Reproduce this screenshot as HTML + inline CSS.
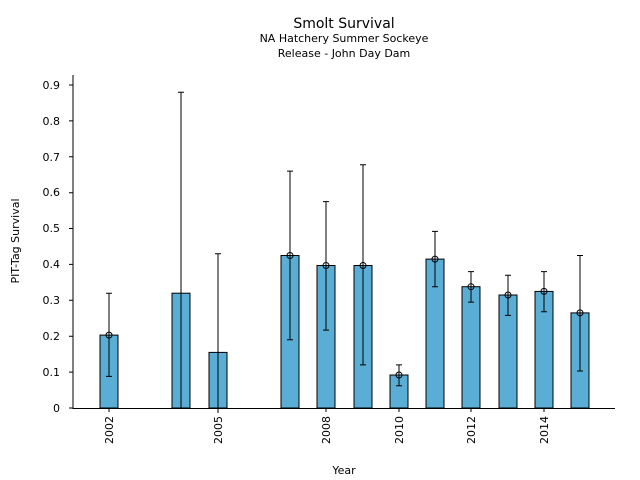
<!DOCTYPE html>
<html><head><meta charset="utf-8"><style>body{margin:0;background:#fff}svg{display:block}text{font-family:"DejaVu Sans","Liberation Sans",sans-serif;fill:#000}</style></head>
<body>
<svg width="640" height="480" viewBox="0 0 640 480">
<text x="344" y="28" font-size="14" text-anchor="middle">Smolt Survival</text>
<text x="344" y="42" font-size="11" text-anchor="middle">NA Hatchery Summer Sockeye</text>
<text x="344" y="57" font-size="11" text-anchor="middle">Release - John Day Dam</text>
<g fill="#5aaed6" stroke="#000" stroke-width="1">
<rect x="100" y="335.1" width="18" height="72.9"/>
<rect x="172" y="293.2" width="18" height="114.8"/>
<rect x="209" y="352.4" width="18" height="55.6"/>
<rect x="281" y="255.5" width="18" height="152.5"/>
<rect x="317" y="265.5" width="18" height="142.5"/>
<rect x="354" y="265.5" width="18" height="142.5"/>
<rect x="390" y="375" width="18" height="33"/>
<rect x="426" y="259.1" width="18" height="148.9"/>
<rect x="462" y="286.7" width="18" height="121.3"/>
<rect x="499" y="295" width="18" height="113"/>
<rect x="535" y="291.4" width="18" height="116.6"/>
<rect x="571" y="312.9" width="18" height="95.1"/>
</g>
<g stroke="#000" stroke-width="1" fill="none">
<path d="M109 293.2V376.4M106 293.2h6M106 376.4h6"/>
<path d="M181 92.2V408M178 92.2h6"/>
<path d="M218 253.7V413M215 253.7h6"/>
<path d="M290 171.1V339.8M287 171.1h6M287 339.8h6"/>
<path d="M326 201.6V330.1M323 201.6h6M323 330.1h6"/>
<path d="M363 164.7V364.9M360 164.7h6M360 364.9h6"/>
<path d="M399 364.9V385.7M396 364.9h6M396 385.7h6"/>
<path d="M435 231.4V286.7M432 231.4h6M432 286.7h6"/>
<path d="M471 271.6V302.1M468 271.6h6M468 302.1h6"/>
<path d="M508 275.2V315.4M505 275.2h6M505 315.4h6"/>
<path d="M544 271.6V311.8M541 271.6h6M541 311.8h6"/>
<path d="M580 255.5V371M577 255.5h6M577 371h6"/>
<circle cx="109" cy="335.1" r="3"/><circle cx="290" cy="255.5" r="3"/><circle cx="326" cy="265.5" r="3"/><circle cx="363" cy="265.5" r="3"/><circle cx="399" cy="375" r="3"/><circle cx="435" cy="259.1" r="3"/><circle cx="471" cy="286.7" r="3"/><circle cx="508" cy="295" r="3"/><circle cx="544" cy="291.4" r="3"/><circle cx="580" cy="312.9" r="3"/>
</g>
<g stroke="#000" stroke-width="1" fill="none">
<path d="M73 75V408.5H615"/>
<path d="M69 408H73M69 372.1H73M69 336.2H73M69 300.3H73M69 264.4H73M69 228.5H73M69 192.7H73M69 156.8H73M69 120.9H73M69 85H73"/>
<path d="M109 408v4M218 408v4M326 408v4M399 408v4M471 408v4M544 408v4"/>
</g>
<g font-size="11" text-anchor="end">
<text x="60" y="412">0</text><text x="60" y="376">0.1</text><text x="60" y="340">0.2</text><text x="60" y="304">0.3</text><text x="60" y="268">0.4</text><text x="60" y="232">0.5</text><text x="60" y="196">0.6</text><text x="60" y="161">0.7</text><text x="60" y="125">0.8</text><text x="60" y="89">0.9</text>
</g>
<g font-size="11" text-anchor="end">
<text transform="translate(113,416) rotate(-90)">2002</text>
<text transform="translate(222,416) rotate(-90)">2005</text>
<text transform="translate(330,416) rotate(-90)">2008</text>
<text transform="translate(403,416) rotate(-90)">2010</text>
<text transform="translate(475,416) rotate(-90)">2012</text>
<text transform="translate(548,416) rotate(-90)">2014</text>
</g>
<text x="344" y="474" font-size="11" text-anchor="middle">Year</text>
<text transform="translate(19,241) rotate(-90)" font-size="11" text-anchor="middle">PIT-Tag Survival</text>
</svg>
</body></html>
